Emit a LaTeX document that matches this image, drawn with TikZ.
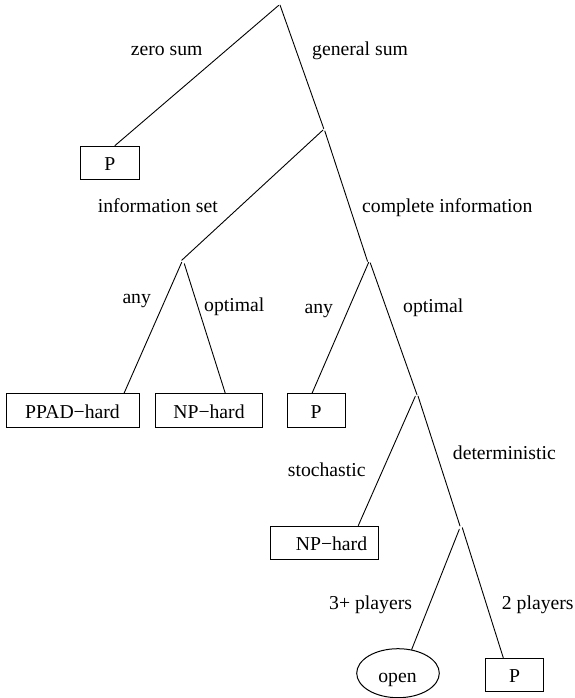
\documentclass[tikz,border=0pt]{standalone}
\usepackage{fontspec}
\setmainfont{Liberation Serif}
\usetikzlibrary{shapes.geometric}
\begin{document}
\begin{tikzpicture}[x=1pt,y=-1pt,
  every node/.style={font=\fontsize{19.7pt}{23pt}\selectfont, inner sep=0pt},
  branch/.style={line width=0.9pt, line cap=round},
  box/.style={draw, line width=1pt, minimum height=33.3pt, text height=16pt, text depth=0pt},
  oval/.style={draw, ellipse, line width=1pt, minimum width=82.6pt, minimum height=49pt},
  lbl/.style={anchor=base west},
]
\useasboundingbox (0,0) rectangle (574,698);

% branch points
\coordinate (rootL) at (278.5,5.5);
\coordinate (rootR) at (280,5);
\coordinate (gsE) at (323.7,128.5);
\coordinate (gsL) at (323,130);
\coordinate (gsR) at (324.8,131);
\coordinate (isE) at (181.7,260.3);
\coordinate (isL) at (181.7,262.3);
\coordinate (isR) at (184.3,263.7);
\coordinate (ciE) at (367.5,261.3);
\coordinate (ciL) at (368.7,262.3);
\coordinate (ciR) at (370.3,263);
\coordinate (opE) at (417,394.7);
\coordinate (opL) at (415.3,396.3);
\coordinate (opR) at (418,396);
\coordinate (dtE) at (460,526);
\coordinate (dtL) at (459.3,529.3);
\coordinate (dtR) at (462.3,527.7);

% leaves
\node[box, minimum width=58.3pt] (p1) at (109.9,162.7) {P};
\node[box, minimum width=133pt] (ppad) at (72.5,410.5) {PPAD−hard};
\node[box, minimum width=107.4pt] (np1) at (209,410.5) {NP−hard};
\node[box, minimum width=58.3pt] (p2) at (316.2,410.5) {P};
\node[box, minimum width=107.6pt] (np2) at (324.5,542.7) {\hspace*{14pt}NP−hard};
\node[box, minimum width=57.6pt, minimum height=32.7pt] (p3) at (514.5,674.7) {P};
\node[oval] (open) at (398,673.2) {};
\node[anchor=base] (opentxt) at (397.5,682.7) {open};

% connectors
\draw[branch] (rootL) -- ([xshift=5.1pt]p1.north);
\draw[branch] (rootR) -- (gsE);
\draw[branch] (gsL) -- (isE);
\draw[branch] (gsR) -- (ciE);
\draw[branch] (isL) -- ([xshift=51.5pt]ppad.north);
\draw[branch] (isR) -- ([xshift=16.3pt]np1.north);
\draw[branch] (ciL) -- ([xshift=-4.2pt]p2.north);
\draw[branch] (ciR) -- (opE);
\draw[branch] (opL) -- ([xshift=33.8pt]np2.north);
\draw[branch] (opR) -- (dtE);
\draw[branch] (dtL) -- (open.60);
\draw[branch] (dtR) -- ([xshift=-11.2pt]p3.north);

% edge labels
\node[lbl] (l1) at (130.7,56) {zero sum};
\node[lbl] (l2) at (312,56) {general sum};
\node[lbl] (l3) at (97.7,212.3) {information set};
\node[lbl] (l4) at (362,212.3) {complete information};
\node[lbl] (l5) at (122.3,303.7) {any};
\node[lbl] (l6) at (204,311.7) {optimal};
\node[lbl] (l7) at (304.3,313) {any};
\node[lbl] (l8) at (403,312.3) {optimal};
\node[lbl] (l9) at (452.7,459) {deterministic};
\node[lbl] (l10) at (287.7,476.7) {stochastic};
\node[lbl] (l11) at (329,609.3) {3+ players};
\node[lbl] (l12) at (501.7,609.3) {2 players};
\end{tikzpicture}
\end{document}
